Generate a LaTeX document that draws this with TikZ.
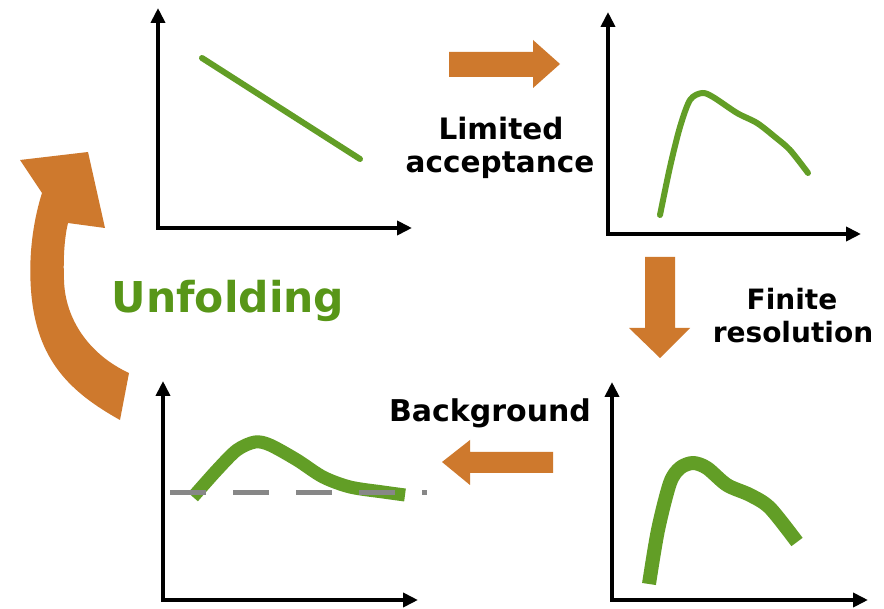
\documentclass[tikz,border=0pt]{standalone}
\usepackage{fontspec}
\setmainfont{DejaVu Sans}
\usetikzlibrary{arrows.meta}
\definecolor{orangeA}{RGB}{206,121,45}
\definecolor{greenC}{RGB}{98,158,38}
\definecolor{greenT}{RGB}{88,150,24}
\definecolor{dashgray}{RGB}{135,135,135}
\begin{document}
\begin{tikzpicture}[x=1pt,y=-1pt,
  axes/.style={line width=4.5pt,line join=miter,{Triangle[length=15pt,width=14pt]}-{Triangle[length=15pt,width=14pt]}},
  curve/.style={draw=greenC,line cap=round,line join=round},
  bigarrow/.style={fill=orangeA,draw=none},
  label/.style={font=\fontsize{29.5}{33}\selectfont\bfseries,align=center,text=black,inner sep=0pt},
  unfold/.style={font=\fontsize{42.5}{46}\selectfont\bfseries,text=greenT,inner sep=0pt}]
\useasboundingbox[fill=white] (0,0) rectangle (884,609);

% plot 1 (top left)
\coordinate (o1) at (158,228);
\draw[axes] (158,8) -- (o1) -- (412,228);
\draw[curve,line width=6pt] (202,58) -- (360,159);

% plot 2 (top right)
\coordinate (o2) at (608,234);
\draw[axes] (608,12) -- (o2) -- (861,234);
\draw[curve,line width=6pt] plot[smooth,tension=0.5] coordinates {(660,215) (670,167) (680,127) (690,100) (702,93) (713,97) (737,113) (757,123) (775,137) (790,150) (808,173)};

% plot 3 (bottom right)
\coordinate (o3) at (612,600);
\draw[axes] (612,382) -- (o3) -- (868,600);
\draw[curve,line width=14pt,line cap=butt] plot[smooth,tension=0.5] coordinates {(649,584) (658,530) (670,483) (680,468) (693,463) (707,468) (727,485) (750,495) (770,508) (797,542)};

% plot 4 (bottom left)
\coordinate (o4) at (163,600);
\draw[axes] (163,381) -- (o4) -- (418,600);
\draw[curve,line width=13pt,line cap=butt] plot[smooth,tension=0.5] coordinates {(193,497) (217,470) (237,450) (255,442) (270,445) (297,460) (323,477) (350,487) (383,492) (405,495)};
\draw[dashgray,line width=5pt,dash pattern=on 36pt off 27pt] (170,493) -- (427,493);

% straight orange arrows
\fill[bigarrow] (449,52) -- (533,52) -- (533,40) -- (560,64) -- (533,88) -- (533,77) -- (449,77) -- cycle;
\fill[bigarrow] (645,257) -- (675,257) -- (675,328) -- (690,328) -- (660,358) -- (629,328) -- (645,328) -- cycle;
\fill[bigarrow] (553,452) -- (470,452) -- (470,440) -- (442,462) -- (470,485) -- (470,473) -- (553,473) -- cycle;

% curved unfolding arrow
\fill[bigarrow] (120,420) .. controls (70,392) and (36,360) .. (31,290)
  .. controls (28,250) and (35,215) .. (42,193)
  -- (20,160) -- (88,152) -- (105,228) -- (68,223)
  .. controls (65,235) and (63,255) .. (64,280)
  .. controls (65,320) and (90,355) .. (129,373) -- cycle;

% labels
\node[label,anchor=base] (lim) at (501,140) {Limited};
\node[label,anchor=base] (acc) at (500,173) {acceptance};
\node[label,anchor=base,font=\fontsize{28}{33}\selectfont\bfseries] (fin) at (792,310) {Finite};
\node[label,anchor=base,font=\fontsize{28}{33}\selectfont\bfseries] (res) at (793,343) {resolution};
\node[label,anchor=base,font=\fontsize{30}{33}\selectfont\bfseries] (bkg) at (490,422) {Background};
\node[unfold,anchor=base] (unf) at (228,313) {Unfolding};
\end{tikzpicture}
\end{document}
